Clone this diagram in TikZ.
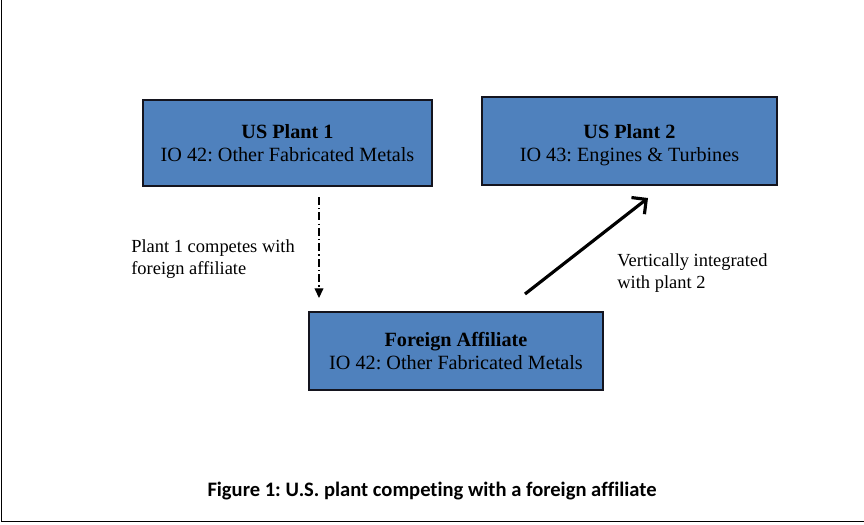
\documentclass[tikz,border=0pt]{standalone}
\usepackage{fontspec}
\setmainfont{Liberation Serif}[Ligatures={NoCommon}]
\newfontfamily\capfont{Carlito}[Ligatures={NoCommon}]
\usetikzlibrary{arrows.meta}
\definecolor{boxblue}{RGB}{79,129,189}
\definecolor{boxedge}{RGB}{20,20,30}
\frenchspacing
\tikzset{
  plantbox/.style={draw=boxedge, line width=1pt, fill=boxblue, align=center,
    inner sep=0pt, font=\fontsize{11.5}{13}\selectfont},
  boxtext/.style={align=center, inner sep=0pt, font=\fontsize{11.5}{13}\selectfont},
  lbl/.style={align=left, anchor=west, inner sep=0pt, font=\fontsize{10.5}{12.5}\selectfont},
  ddarrow/.style={line width=0.7pt, dash pattern=on 4.5pt off 1.8pt on 0.7pt off 1.8pt,
    -{Triangle[length=5.5pt,width=5pt]}},
  solidarrow/.style={line width=1.8pt, -{Straight Barb[length=6pt,width=12pt,line width=1.8pt]}},
  frame/.style={line width=1.1pt}
}
\begin{document}
\begin{tikzpicture}[x=0.02cm,y=-0.02cm]
\useasboundingbox (0,0) rectangle (864,524);
% frame (left and bottom)
\coordinate (ftop) at (1.5,0);
\coordinate (fcorner) at (1.5,521.5);
\coordinate (fright) at (864,521.5);
\draw[frame] (ftop) -- (fcorner) -- (fright);
% boxes
\node[plantbox, minimum width=5.78cm, minimum height=1.72cm] (p1) at (287.5,143)
  {\textbf{US Plant 1}\\IO 42: Other Fabricated Metals};
\node[plantbox, minimum width=5.9cm, minimum height=1.76cm] (p2) at (629.5,141) {};
\node[boxtext] (p2t) at (629.5,145)
  {\textbf{US Plant 2}\\IO 43: Engines \& Turbines};
\node[plantbox, minimum width=5.88cm, minimum height=1.56cm] (fa) at (456,351)
  {\textbf{Foreign Affiliate}\\IO 42: Other Fabricated Metals};
% connectors
\coordinate (d1) at (319,197);
\coordinate (d2) at (319,298);
\draw[ddarrow] (d1) -- (d2);
\coordinate (s1) at (525,294);
\coordinate (s2) at (648,198);
\draw[solidarrow] (s1) -- (s2);
% labels
\node[lbl] (l1) at (131,259) {Plant 1 competes with\\foreign affiliate};
\node[lbl] (l2) at (617,273) {Vertically integrated\\with plant 2};
% caption
\node[inner sep=0pt, font=\capfont\bfseries\fontsize{11.7}{14}\selectfont] (cap) at (432,491)
  {Figure 1: U.S. plant competing with a foreign affiliate};
\end{tikzpicture}
\end{document}
